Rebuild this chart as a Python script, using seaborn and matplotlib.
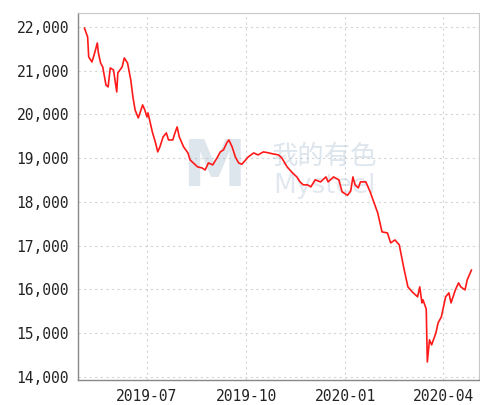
import pandas as pd
import matplotlib.pyplot as plt
import matplotlib.dates as mdates
import matplotlib.ticker as mticker
import seaborn as sns

dates = [
    "2019-05-04", "2019-05-07", "2019-05-08", "2019-05-11", "2019-05-13", "2019-05-16",
    "2019-05-17", "2019-05-19", "2019-05-21", "2019-05-24", "2019-05-26", "2019-05-28",
    "2019-05-31", "2019-06-03", "2019-06-04", "2019-06-08", "2019-06-10", "2019-06-13",
    "2019-06-16", "2019-06-18", "2019-06-20", "2019-06-23", "2019-06-27", "2019-06-29",
    "2019-07-01", "2019-07-02", "2019-07-06", "2019-07-09", "2019-07-11", "2019-07-13",
    "2019-07-16", "2019-07-19", "2019-07-21", "2019-07-25", "2019-07-27", "2019-07-29",
    "2019-07-31", "2019-08-04", "2019-08-08", "2019-08-10", "2019-08-13", "2019-08-17",
    "2019-08-21", "2019-08-24", "2019-08-27", "2019-08-31", "2019-09-04", "2019-09-07",
    "2019-09-10", "2019-09-13", "2019-09-15", "2019-09-18", "2019-09-21", "2019-09-24",
    "2019-09-27", "2019-10-03", "2019-10-08", "2019-10-12", "2019-10-17", "2019-10-22",
    "2019-10-26", "2019-10-31", "2019-11-03", "2019-11-08", "2019-11-13", "2019-11-17",
    "2019-11-20", "2019-11-23", "2019-11-27", "2019-11-30", "2019-12-04", "2019-12-09",
    "2019-12-14", "2019-12-16", "2019-12-21", "2019-12-26", "2019-12-29", "2020-01-03",
    "2020-01-06", "2020-01-08", "2020-01-10", "2020-01-13", "2020-01-15", "2020-01-20",
    "2020-01-24", "2020-01-31", "2020-02-04", "2020-02-09", "2020-02-12", "2020-02-16",
    "2020-02-20", "2020-02-24", "2020-02-28", "2020-03-03", "2020-03-08", "2020-03-10",
    "2020-03-12", "2020-03-13", "2020-03-16", "2020-03-17", "2020-03-19", "2020-03-21",
    "2020-03-25", "2020-03-27", "2020-03-30", "2020-04-03", "2020-04-06", "2020-04-08",
    "2020-04-12", "2020-04-15", "2020-04-17", "2020-04-21", "2020-04-23", "2020-04-27",
]
prices = [
    21977, 21771, 21314, 21200, 21360, 21634,
    21406, 21177, 21086, 20674, 20629, 21063,
    21017, 20514, 20949, 21086, 21291, 21177,
    20789, 20400, 20103, 19920, 20217, 20103,
    19943, 20034, 19600, 19349, 19143, 19257,
    19486, 19577, 19417, 19417, 19577, 19714,
    19486, 19257, 19120, 18960, 18891, 18800,
    18777, 18731, 18891, 18846, 19006, 19143,
    19189, 19349, 19417, 19257, 19029, 18891,
    18860, 19029, 19120, 19074, 19143, 19120,
    19097, 19074, 19006, 18800, 18663, 18571,
    18457, 18389, 18389, 18343, 18503, 18457,
    18571, 18457, 18571, 18503, 18229, 18150,
    18250, 18571, 18389, 18320, 18457, 18457,
    18229, 17748, 17314, 17291, 17063, 17130,
    17017, 16514, 16057, 15943, 15829, 16057,
    15691, 15760, 15550, 14340, 14845, 14730,
    15006, 15234, 15370, 15829, 15920, 15690,
    15988, 16148, 16057, 15988, 16217, 16445,
]
x_ticks = ["2019-07-01", "2019-10-01", "2020-01-01", "2020-04-01"]
y_ticks = [14000, 15000, 16000, 17000, 18000, 19000, 20000, 21000, 22000]

df = pd.DataFrame({"date": pd.to_datetime(dates), "price": prices})

sns.set_style("white")
plt.rcParams['font.family'] = ['DejaVu Sans Mono', 'Noto Sans CJK SC', 'DejaVu Sans']

fig = plt.figure(figsize=(4.81, 4.05), dpi=100)
ax = fig.add_axes([0.162, 0.062, 0.834, 0.906])

# faint watermark, behind the line
wm = '#9fb5cc'
ax.text(0.339, 0.578, "M", transform=ax.transAxes, fontsize=46, fontweight='bold',
        color=wm, alpha=0.35, ha='center', va='center', family='DejaVu Sans', zorder=1)
ax.text(0.616, 0.608, "我的有色", transform=ax.transAxes, fontsize=19,
        color=wm, alpha=0.35, ha='center', va='center',
        family=['Noto Sans CJK SC', 'DejaVu Sans'], zorder=1)
ax.text(0.616, 0.529, "Mysteel", transform=ax.transAxes, fontsize=19,
        color=wm, alpha=0.3, ha='center', va='center', family='DejaVu Sans', zorder=1)

sns.lineplot(data=df, x="date", y="price", ax=ax, color='#ff1a1a', linewidth=1.2, zorder=3)

ax.set_xlim(pd.Timestamp("2019-04-28"), pd.Timestamp("2020-05-04"))
ax.set_ylim(13930, 22320)
ax.set_xticks(pd.to_datetime(x_ticks))
ax.xaxis.set_major_formatter(mdates.DateFormatter("%Y-%m"))
ax.set_yticks(y_ticks)
ax.yaxis.set_major_formatter(mticker.StrMethodFormatter("{x:,.0f}"))
ax.set_xlabel("")
ax.set_ylabel("")

ax.grid(True, color='#d4d4d4', linestyle=(0, (2, 3)), linewidth=0.8)
ax.tick_params(axis='both', length=3, width=0.8, color='#888888',
               labelsize=10.5, labelcolor='#222222', direction='out')
for side in ['top', 'right']:
    ax.spines[side].set_color('#c8c8c8')
    ax.spines[side].set_linewidth(0.8)
for side in ['left', 'bottom']:
    ax.spines[side].set_color('#888888')
    ax.spines[side].set_linewidth(1.0)

fig.savefig("out.png", dpi=100)
